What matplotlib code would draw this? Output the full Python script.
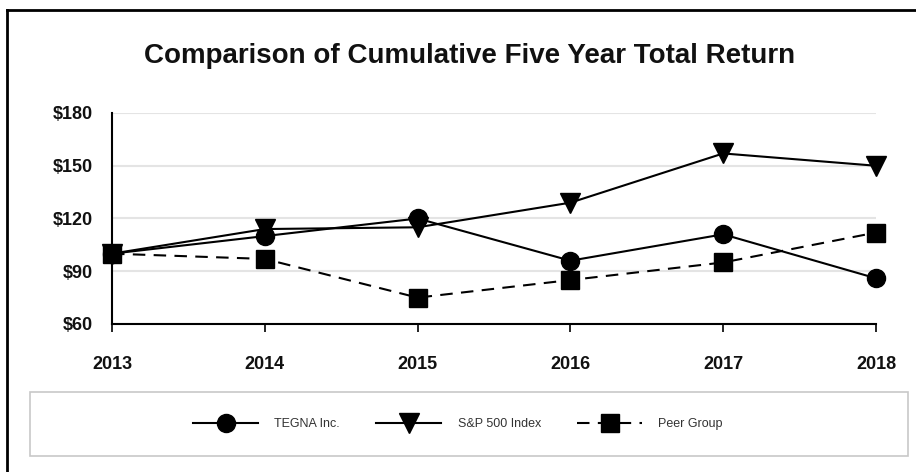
import matplotlib.pyplot as plt
from matplotlib.lines import Line2D
from matplotlib.patches import Rectangle

years = [2013, 2014, 2015, 2016, 2017, 2018]
tegna = [100, 110, 120, 96, 111, 86]
sp500 = [100, 114, 115, 129, 157, 150]
peer = [100, 97, 75, 85, 95, 112]
yticks = [60, 90, 120, 150, 180]

plt.rcParams['font.family'] = ['Liberation Sans', 'DejaVu Sans']

fig = plt.figure(figsize=(9.16, 4.72), dpi=100)
ax = fig.add_axes([112/916, 1-324/472, (876-112)/916, (324-113)/472])

# Series
ax.plot(years, tegna, color='black', lw=1.5, marker='o', ms=13, clip_on=False, label='TEGNA Inc.')
ax.plot(years, sp500, color='black', lw=1.5, marker='v', ms=14, clip_on=False, label='S&P 500 Index')
ax.plot(years, peer, color='black', lw=1.5, ls=(0, (6, 4)), marker='s', ms=13, clip_on=False,
        label='Peer Group')

ax.set_xlim(2013, 2018)
ax.set_ylim(60, 180)
ax.set_xticks(years)
ax.set_yticks(yticks)
ax.set_yticklabels(['$%d' % v for v in yticks])
ax.grid(axis='y', color='#e4e4e4', lw=1.5)
ax.set_axisbelow(True)
for s in ['top', 'right']:
    ax.spines[s].set_visible(False)
ax.spines['left'].set_linewidth(1.5)
ax.spines['bottom'].set_linewidth(1.5)
ax.tick_params(axis='x', direction='out', length=6, width=1.2, pad=17, labelsize=13)
ax.tick_params(axis='y', length=0, pad=14, labelsize=13)
for t in ax.get_xticklabels() + ax.get_yticklabels():
    t.set_fontweight('bold')
    t.set_color('#111111')

fig.text(470/916, 1-56/472, 'Comparison of Cumulative Five Year Total Return',
         ha='center', va='center', fontsize=20, fontweight='bold', color='#111111')

# Legend box
fig.patches.append(Rectangle((30/916, 1-456/472), (908-30)/916, (456-392)/472,
                             transform=fig.transFigure, fill=False,
                             edgecolor='#c8c8c8', lw=1.2))
fig.legend(loc='center', bbox_to_anchor=(458/916, 1-424/472), ncol=3,
           frameon=False, fontsize=9, handlelength=5.2, handletextpad=1.3,
           columnspacing=2.9, labelcolor='#333333')

# Outer border (cropped at right and bottom)
fig.add_artist(Line2D([7/916, 1], [1-10/472, 1-10/472], color='black', lw=2,
                      transform=fig.transFigure))
fig.add_artist(Line2D([7/916, 7/916], [0, 1-10/472], color='black', lw=2,
                      transform=fig.transFigure))

fig.savefig('out.png', dpi=100)
